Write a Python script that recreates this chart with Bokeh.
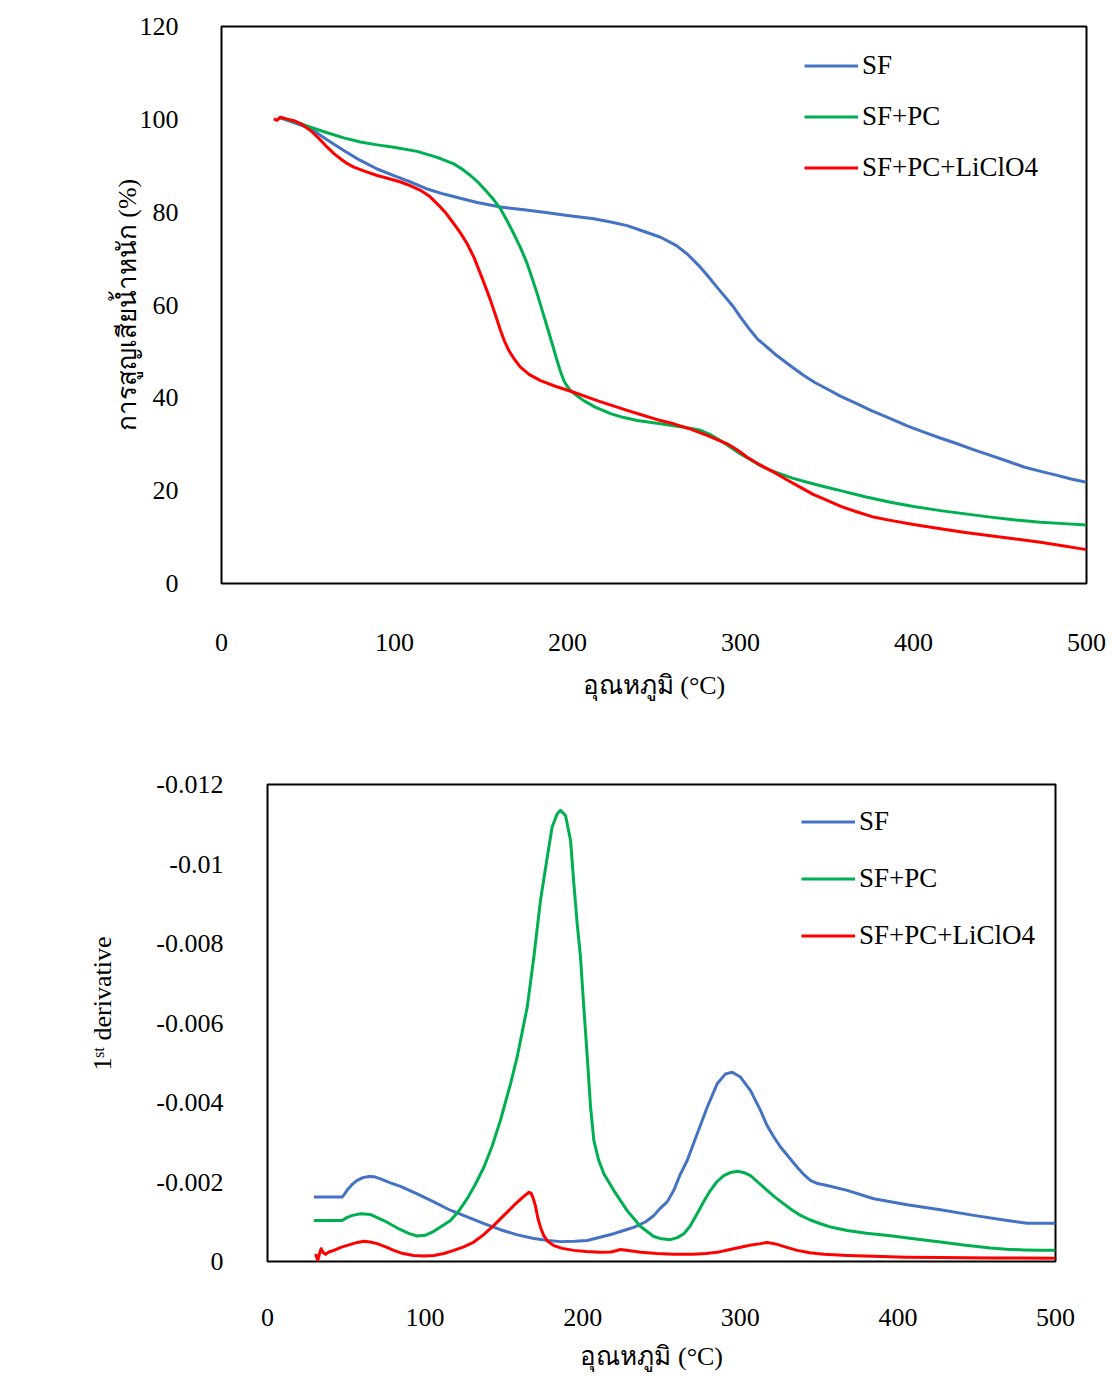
from bokeh.plotting import figure
from bokeh.models import Range1d, FixedTicker
from bokeh.embed import file_html
from bokeh.resources import INLINE

# ---------------- data: TGA (weight %) ----------------
series_names = ["SF", "SF+PC", "SF+PC+LiClO4"]
series_colors = ["#4472C4", "#00B050", "#FF0000"]

tga_sf_t = [33, 41.8, 51.4, 61, 70.7, 80, 90, 100, 109.2, 118, 128.5, 138, 147.8, 161.3, 175, 186.3, 200, 215.2,
            225, 234.5, 242.2, 253.8, 263, 269.2, 276.9, 281.5, 286.5, 291, 296.1, 300, 305.8, 310, 315.4, 320,
            325, 330, 336.6, 343, 350.1, 358, 367.5, 376, 386.7, 396, 406, 415, 425.3, 435, 444.5, 454, 463.8,
            473, 483.1, 491, 500]
tga_sf_w = [100.45, 99.3, 98.0, 95.6, 93.3, 91.2, 89.3, 87.8, 86.5, 85.1, 83.9, 83.0, 82.1, 81.1, 80.5, 80.0, 79.3, 78.6,
            77.9, 77.1, 76.1, 74.6, 72.8, 71.0, 68.1, 66.1, 63.8, 61.8, 59.5, 57.4, 54.5, 52.6, 50.9, 49.4,
            48.0, 46.6, 44.8, 43.3, 41.9, 40.3, 38.7, 37.2, 35.5, 34.0, 32.6, 31.4, 30.1, 28.8, 27.6, 26.4, 25.1,
            24.2, 23.3, 22.5, 21.8]

tga_pc_t = [33.1, 41.8, 51.4, 61.1, 70.7, 80.3, 90, 99.6, 113.1, 124.7, 134.3, 139, 143.9, 148.7, 153.6, 157.5,
            161.3, 165, 169, 173, 176.7, 179.6, 182.5, 185.4, 188.3, 191.2, 194, 196, 197.9, 199.8, 201.7, 205.5,
            209.4, 216, 224.9, 232, 240.3, 253.8, 261.4, 270, 276.9, 282, 288.4, 294, 300, 306, 311.6, 317, 323.1,
            330, 338.6, 348, 357.8, 372, 386.7, 400, 415.6, 430, 444.5, 459, 473.4, 487, 500]
tga_pc_w = [100.45, 99.6, 98.3, 97.1, 96.0, 95.1, 94.5, 94.0, 93.1, 91.8, 90.4, 89.3, 87.9, 86.3, 84.3, 82.6,
            80.7, 78.2, 75.3, 72.2, 68.9, 65.7, 62.4, 58.8, 55.2, 51.6, 48.0, 45.6, 43.7, 42.5, 41.6, 40.4,
            39.4, 38.0, 36.6, 35.8, 35.1, 34.4, 34.0, 33.5, 33.0, 32.2, 30.8, 29.4, 27.9, 26.6, 25.4, 24.4, 23.6,
            22.7, 21.8, 20.9, 20.0, 18.7, 17.5, 16.6, 15.7, 15.0, 14.3, 13.7, 13.2, 12.9, 12.6]

tga_li_t = [30.2, 32, 34.1, 37.5, 41.8, 46.5, 51.4, 56, 61.1, 65, 68.8, 72.5, 76.5, 83, 90, 97, 103.5, 109, 115,
            120, 124.7, 129.5, 134.3, 138, 142, 146, 149.7, 152.6, 155.5, 158.4, 161.3, 163.7, 166.1, 169.5,
            172.8, 178, 184.4, 193, 203.6, 218, 234.5, 242.2, 253.8, 261.4, 270, 280.7, 292.3, 298, 303.9, 311,
            319.3, 327, 334.7, 342, 350.1, 358, 367.5, 376, 386.7, 400, 415.6, 430, 444.5, 459, 473.4, 487, 500]
tga_li_w = [100.1, 99.8, 100.45, 100.1, 99.7, 98.9, 97.6, 96.0, 94.0, 92.6, 91.5, 90.5, 89.7, 88.8, 87.9, 87.2,
            86.5, 85.7, 84.7, 83.5, 81.8, 79.9, 77.5, 75.6, 73.2, 70.2, 66.7, 63.9, 61.0, 57.8, 54.5, 52.1, 50.2,
            48.2, 46.6, 45.0, 43.7, 42.5, 41.2, 39.3, 37.3, 36.4, 35.1, 34.4, 33.4, 31.9, 30.1, 28.8, 27.2, 25.6,
            24.0, 22.3, 20.7, 19.2, 17.9, 16.6, 15.4, 14.4, 13.6, 12.7, 11.8, 11.0, 10.3, 9.6, 8.9, 8.1, 7.3]

# ---------------- data: DTG (1st derivative) ----------------
dtg_sf_t = [29.4, 47.4, 49, 50.6, 53.5, 56.9, 60.5, 64.3, 68, 71.7, 78, 84.4, 95, 105.5, 116, 126.7, 137, 147.8,
            158.6, 169, 178, 186, 195, 202.9, 211, 219.7, 226, 232.4, 240, 245, 249, 253.6, 257.8, 262, 266.3,
            272.6, 279, 285.3, 290.6, 294.9, 300.1, 306.5, 312.8, 317, 321, 325.5, 336.1, 340, 344.5, 349, 355.1,
            367.8, 384.7, 405.9, 427, 448.2, 469.3, 482, 500]
dtg_sf_d = [-0.00162, -0.00162, -0.00170, -0.00180, -0.00193, -0.00204, -0.00211, -0.00214, -0.00213, -0.00208,
            -0.00198, -0.00189, -0.00170, -0.00150, -0.00129, -0.00112, -0.00096, -0.00080,
            -0.00067, -0.00058, -0.00053, -0.00050, -0.00051, -0.00053, -0.00061, -0.00070, -0.00078, -0.00086,
            -0.00100, -0.00115, -0.00133, -0.00150, -0.00179, -0.00220, -0.00254,
            -0.00321, -0.00388, -0.00447, -0.00472, -0.00476, -0.00464, -0.00430, -0.00380, -0.00342, -0.00315,
            -0.00288, -0.00237, -0.00220, -0.00204, -0.00196, -0.00191,
            -0.00179, -0.00158, -0.00143, -0.00130, -0.00116, -0.00103, -0.00096, -0.00096]

dtg_pc_t = [29.4, 47.4, 50.6, 54, 59, 65.4, 73.8, 84.4, 90, 95, 100, 105.5, 111, 116.1, 121, 126.7, 132, 137.3,
            142.5, 147.8, 154.2, 158.4, 164.8, 169, 173.2, 177.5, 180.6, 183.8, 185.9, 189.1, 192.3, 194.4, 196.5,
            198.6, 200.7, 202.9, 205, 207.1, 210.2, 213.4, 219.7, 228.2, 236.7, 245.1, 250, 255.7, 260, 264.2,
            268, 272.6, 277, 281.1, 285, 289.5, 294, 298, 302, 306.5, 311, 317, 322, 327.6, 333, 338.2, 344,
            350.9, 358, 367.8, 380, 395.3, 410, 427, 443, 458.8, 469, 479.9, 490, 500]
dtg_pc_d = [-0.00103, -0.00103, -0.00111, -0.00116, -0.00120, -0.00118, -0.00103, -0.00080, -0.00070, -0.00064,
            -0.00066, -0.00076, -0.00090, -0.00103, -0.00125, -0.00158, -0.00195, -0.00237,
            -0.00290, -0.00355, -0.00447, -0.00514, -0.00640, -0.00766, -0.00908, -0.01017, -0.01093, -0.01126,
            -0.01135, -0.01122, -0.01059, -0.00950, -0.00850,
            -0.00766, -0.00640, -0.00514, -0.00388, -0.00304, -0.00254, -0.00221, -0.00179, -0.00128, -0.00088,
            -0.00063, -0.00057, -0.00055, -0.00060, -0.00070,
            -0.00088, -0.00120, -0.00152, -0.00179, -0.00200, -0.00216, -0.00224, -0.00227, -0.00224, -0.00216,
            -0.00200, -0.00179, -0.00162, -0.00145, -0.00129, -0.00116, -0.00105,
            -0.00095, -0.00086, -0.00078, -0.00071, -0.00065, -0.00057, -0.00049, -0.00041, -0.00034, -0.00031,
            -0.00029, -0.00028, -0.00028]

dtg_li_t = [30.5, 31.9, 33, 34, 35.5, 36.8, 39, 42.1, 47, 52.7, 57, 61.1, 65, 69.6, 75, 80.1, 86, 92.8, 99, 105.5,
            112, 118.2, 124.5, 130.9, 137, 143.6, 150, 156.3, 162.6, 165.8, 167.2, 168.5, 170, 171.5, 173.3,
            175.3, 178, 181.7, 187, 194.4, 202, 211, 218, 224, 230, 237, 247, 257.8, 270, 278, 285.3, 292, 300.1,
            306, 312.8, 317, 320, 323.4, 330, 336.1, 344, 353, 368, 384.7, 405, 427, 460, 500]
dtg_li_d = [-0.00019, -0.00003, -0.00020, -0.00032, -0.00022, -0.00018, -0.00024, -0.00028, -0.00036, -0.00043,
            -0.00048, -0.00051, -0.00049, -0.00045, -0.00037, -0.00028, -0.00020, -0.00015, -0.00014, -0.00015,
            -0.00020, -0.00028, -0.00037, -0.00049, -0.00067, -0.00091, -0.00116, -0.00141, -0.00164, -0.00174,
            -0.00172, -0.00160, -0.00140, -0.00110, -0.00085,
            -0.00065, -0.00050, -0.00040, -0.00033, -0.00028, -0.00025, -0.00023, -0.00024, -0.00030, -0.00027,
            -0.00023, -0.00020, -0.00018, -0.00018, -0.00020, -0.00023, -0.00029, -0.00036,
            -0.00041, -0.00045, -0.00048, -0.00046, -0.00043, -0.00035, -0.00028, -0.00022, -0.00018, -0.00015,
            -0.00013, -0.00011, -0.00010, -0.00009, -0.00008]

x_ticks = [0, 100, 200, 300, 400, 500]
tga_ticks = [0, 20, 40, 60, 80, 100, 120]
dtg_ticks = [0, -0.002, -0.004, -0.006, -0.008, -0.01, -0.012]
dtg_tick_labels = ["0", "-0.002", "-0.004", "-0.006", "-0.008", "-0.01", "-0.012"]

x_title = "อุณหภูมิ (°C)"
tga_title = "การสูญเสียน้ำหนัก (%)"
dtg_title = "1ˢᵗ derivative"

FONT = "Liberation Serif"
FS = "26px"
NB = "\u00a0"


def style(p):
    p.outline_line_color = "black"
    p.outline_line_width = 2
    p.outline_line_alpha = 1
    p.grid.visible = False
    for ax in p.axis:
        ax.axis_line_color = None
        ax.major_tick_line_color = None
        ax.minor_tick_line_color = None
        ax.major_tick_out = 0
        ax.major_tick_in = 0
        ax.minor_tick_out = 0
        ax.minor_tick_in = 0
        ax.major_label_text_font = FONT
        ax.major_label_text_font_size = FS
        ax.major_label_text_color = "black"
        ax.axis_label_text_font = FONT
        ax.axis_label_text_font_size = FS
        ax.axis_label_text_font_style = "normal"
        ax.axis_label_text_color = "black"


def style_legend(lg, loc, row_h):
    lg.location = loc
    lg.border_line_color = None
    lg.background_fill_alpha = 0
    lg.padding = 0
    lg.margin = 0
    lg.spacing = 0
    lg.glyph_width = 54
    lg.glyph_height = row_h
    lg.label_height = row_h
    lg.label_standoff = 4
    lg.label_text_font = FONT
    lg.label_text_font_size = "27px"
    lg.label_text_color = "black"


# ---------------- top figure ----------------
p1 = figure(width=1112, height=720, output_backend="svg", toolbar_location=None,
            x_range=Range1d(0, 500), y_range=Range1d(0, 120),
            min_border_left=221, min_border_right=26, min_border_top=26, min_border_bottom=137)
tga = [(tga_sf_t, tga_sf_w), (tga_pc_t, tga_pc_w), (tga_li_t, tga_li_w)]
for (t, w), name, col in zip(tga, series_names, series_colors):
    p1.line(t, w, line_color=col, line_width=3, line_join="round", legend_label=name)
p1.xaxis.ticker = FixedTicker(ticks=x_ticks)
p1.yaxis.ticker = FixedTicker(ticks=tga_ticks)
p1.xaxis.axis_label = x_title
p1.yaxis.axis_label = tga_title
style(p1)
p1.xaxis.major_label_standoff = 50
p1.xaxis.axis_label_standoff = 17
p1.yaxis.major_label_standoff = 43
p1.yaxis.axis_label_standoff = -5
style_legend(p1.legend[0], (583, 390), 51)

# ---------------- bottom figure ----------------
p2 = figure(width=1112, height=656, output_backend="svg", toolbar_location=None,
            x_range=Range1d(0, 500), y_range=Range1d(0, -0.012),
            min_border_left=267, min_border_right=57, min_border_top=64, min_border_bottom=115)
dtg = [(dtg_sf_t, dtg_sf_d), (dtg_pc_t, dtg_pc_d), (dtg_li_t, dtg_li_d)]
for (t, d), name, col in zip(dtg, series_names, series_colors):
    p2.line(t, d, line_color=col, line_width=3, line_join="round", legend_label=name)
p2.xaxis.ticker = FixedTicker(ticks=x_ticks)
p2.yaxis.ticker = FixedTicker(ticks=dtg_ticks)
p2.yaxis.major_label_overrides = {v: s for v, s in zip(dtg_ticks, dtg_tick_labels)}
p2.xaxis.axis_label = x_title + NB * 3
p2.yaxis.axis_label = NB * 6 + dtg_title
style(p2)
p2.xaxis.major_label_standoff = 47
p2.xaxis.axis_label_standoff = 13
p2.yaxis.major_label_standoff = 44
p2.yaxis.axis_label_standoff = 36
style_legend(p2.legend[0], (534, 297), 57)

open("out.html", "w").write(file_html([p1, p2], INLINE))
